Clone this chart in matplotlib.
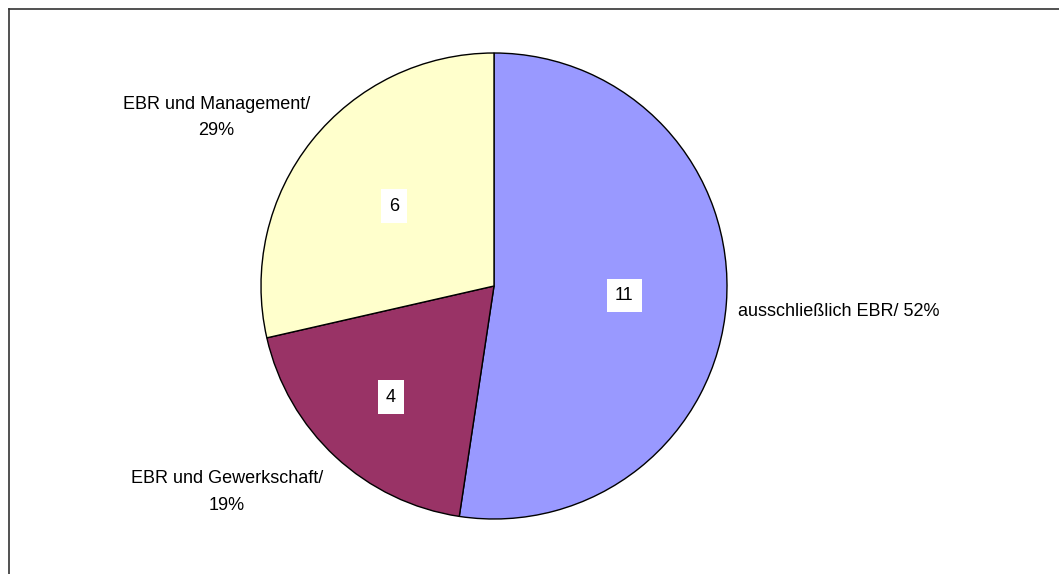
import numpy as np
import matplotlib
matplotlib.use("Agg")
import matplotlib.pyplot as plt
from matplotlib.lines import Line2D

plt.rcParams['font.family'] = ['Liberation Sans', 'DejaVu Sans']

# Daten
labels = ['ausschließlich EBR', 'EBR und Gewerkschaft', 'EBR und Management']
counts = [11, 4, 6]
colors = ['#9999FF', '#993366', '#FFFFCC']

fig = plt.figure(figsize=(10.59, 5.74), dpi=100)

# Rahmen (nur oben und links sichtbar)
x0, y0 = 8.5 / 1059, 1 - 8.5 / 574
fig.add_artist(Line2D([x0, 1.0], [y0, y0], transform=fig.transFigure, color='#333333', lw=1.2))
fig.add_artist(Line2D([x0, x0], [0.0, y0], transform=fig.transFigure, color='#333333', lw=1.2))

ax = fig.add_axes([261 / 1059, 55 / 574, 466 / 1059, 466 / 574])
wedges, _ = ax.pie(counts, colors=colors, startangle=90, counterclock=False, radius=1,
                   wedgeprops=dict(edgecolor='black', linewidth=1.0))
ax.set_xlim(-1, 1)
ax.set_ylim(-1, 1)
ax.set_aspect('equal')
ax.axis('off')

total = sum(counts)
label_dist = [1.05, 1.08, 1.01]
value_dist = [0.56, 0.65, 0.55]
for w, lab, n, ld, vd in zip(wedges, labels, counts, label_dist, value_dist):
    ang = np.deg2rad((w.theta1 + w.theta2) / 2)
    c, s = np.cos(ang), np.sin(ang)
    # Wert im Segment
    ax.text(vd * c, vd * s, str(n), ha='center', va='center', fontsize=13,
            bbox=dict(boxstyle='square,pad=0.45', facecolor='white', edgecolor='none'))
    pct = round(100 * n / total)
    ha = 'left' if c > 0 else 'right'
    if abs(s) < 0.3:
        va = 'center'
        txt = f'{lab}/ {pct}%'
        y = ld * s - 0.03
    else:
        va = 'top' if s < 0 else 'bottom'
        txt = f'{lab}/\n{pct}%'
        y = ld * s
    ax.text(ld * c, y, txt, ha=ha, va=va, fontsize=13, multialignment='center',
            linespacing=1.7)

fig.savefig('out.png', dpi=100, facecolor='white')
